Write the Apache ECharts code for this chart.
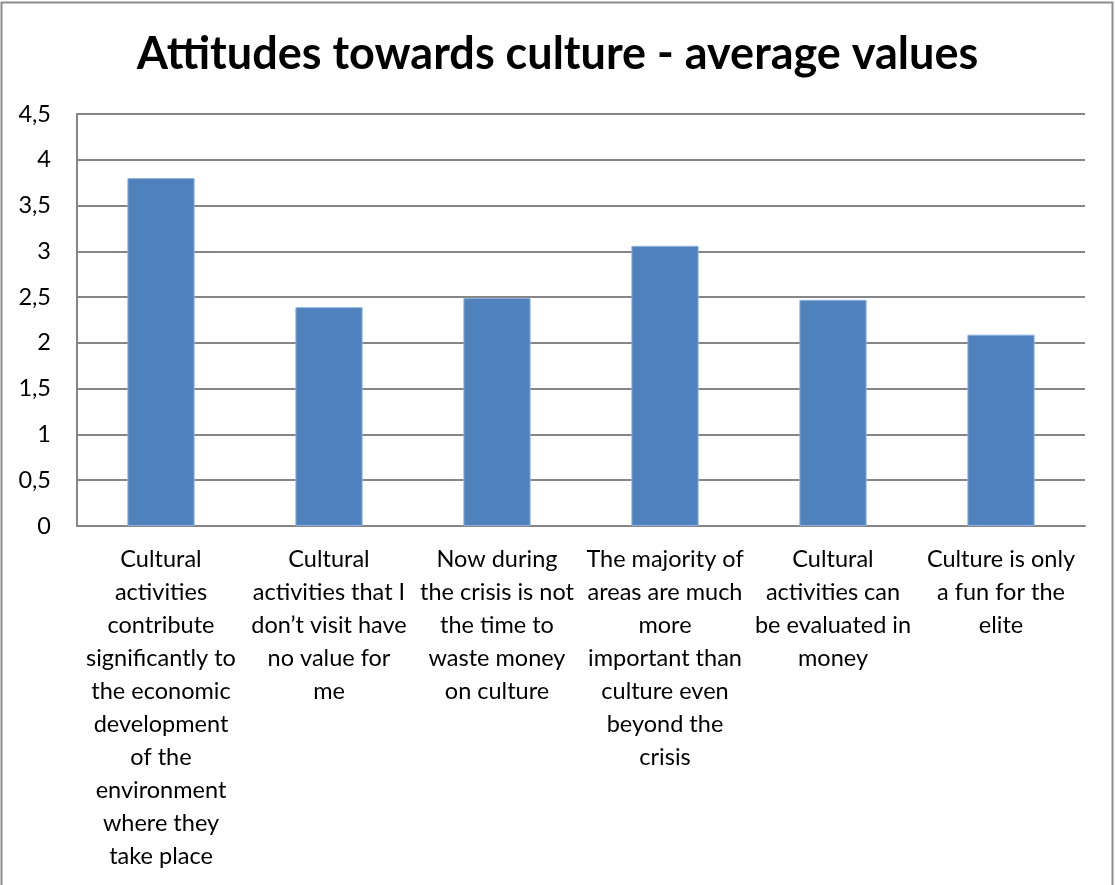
<!DOCTYPE html>
<html>
<head>
<meta charset="utf-8">
<script src="https://cdn.jsdelivr.net/npm/echarts@6/dist/echarts.min.js"></script>
<style>
  html, body { margin: 0; padding: 0; background: #fff; }
  #chart { width: 1115px; height: 885px; }
</style>
</head>
<body>
<div id="chart"></div>
<script>
// Survey statements (wrapped the way they appear under the axis)
const categories = [
  'Cultural\nactivities\ncontribute\nsignificantly to\nthe economic\ndevelopment\nof the\nenvironment\nwhere they\ntake place',
  'Cultural\nactivities that I\ndon\u2019t visit have\nno value for\nme',
  'Now during\nthe crisis is not\nthe time to\nwaste money\non culture',
  'The majority of\nareas are much\nmore\nimportant than\nculture even\nbeyond the\ncrisis',
  'Cultural\nactivities can\nbe evaluated in\nmoney',
  'Culture is only\na fun for the\nelite'
];

// Average agreement per statement
const averages = [3.80, 2.39, 2.49, 3.06, 2.47, 2.09];

const titleText = 'Attitudes towards culture - average values';

const chart = echarts.init(document.getElementById('chart'), null, { renderer: 'canvas' });

chart.setOption({
  backgroundColor: '#ffffff',
  animation: false,
  textStyle: { fontFamily: 'Lato' },
  title: {
    text: titleText,
    left: 'center',
    top: 27,
    textStyle: {
      fontFamily: 'Lato',
      fontWeight: 'bold',
      fontSize: 45,
      color: '#000000'
    }
  },
  graphic: [{
    type: 'rect',
    shape: { x: 1.5, y: 2.5, width: 1111, height: 900 },
    style: { fill: 'none', stroke: '#8c8c8c', lineWidth: 2 },
    silent: true,
    z: 100
  }],
  grid: {
    left: 77,
    right: 30,
    top: 114,
    bottom: 359,
    containLabel: false
  },
  xAxis: {
    type: 'category',
    data: categories,
    axisTick: { show: false },
    axisLine: { show: true, lineStyle: { color: '#868686', width: 2 } },
    axisLabel: {
      interval: 0,
      margin: 17,
      color: '#000000',
      fontFamily: 'Lato',
      fontSize: 23.5,
      lineHeight: 33,
      align: 'center'
    }
  },
  yAxis: {
    type: 'value',
    min: 0,
    max: 4.5,
    interval: 0.5,
    axisLine: { show: true, lineStyle: { color: '#868686', width: 2 } },
    axisTick: { show: false },
    splitLine: { show: true, lineStyle: { color: '#868686', width: 2 } },
    axisLabel: {
      margin: 26,
      color: '#000000',
      fontFamily: 'Lato',
      fontSize: 23.5,
      formatter: v => String(v).replace('.', ',')
    }
  },
  series: [{
    type: 'bar',
    data: averages,
    barWidth: '40%',
    itemStyle: {
      color: '#4f81bd',
      borderColor: '#8db3e2',
      borderWidth: 1
    }
  }]
});
</script>
</body>
</html>
